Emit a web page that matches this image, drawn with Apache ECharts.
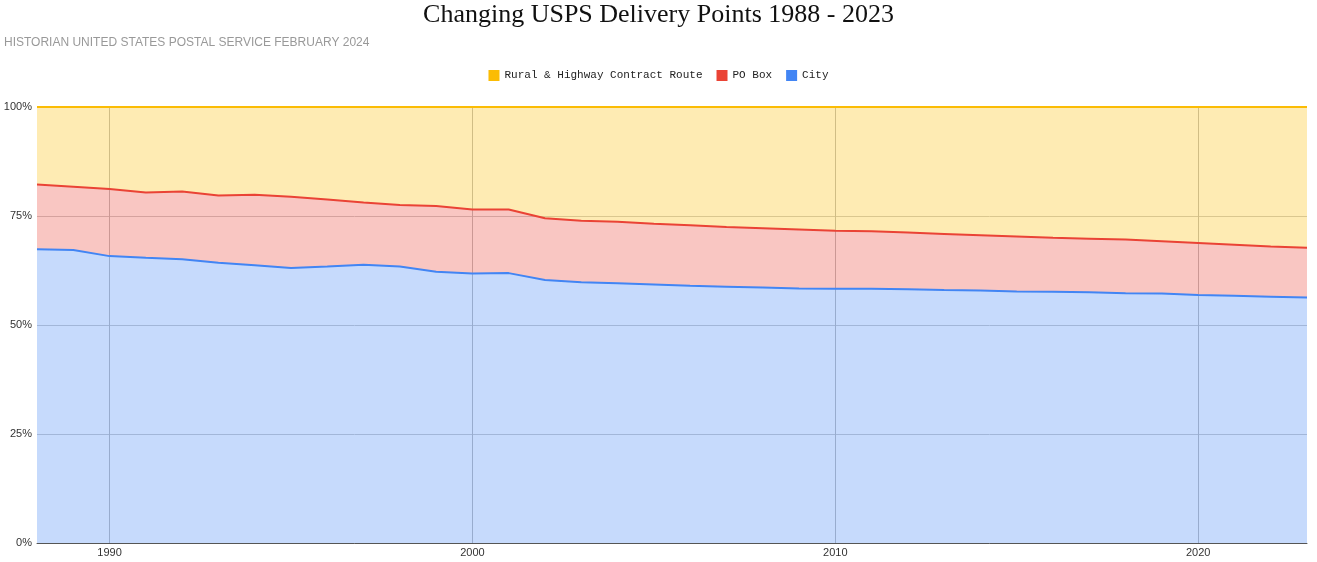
<!DOCTYPE html>
<html>
<head>
<meta charset="utf-8">
<script src="https://cdn.jsdelivr.net/npm/echarts@6/dist/echarts.min.js"></script>
<style>
html,body{margin:0;padding:0;background:#fff;}
#c{width:1317px;height:562px;}
</style>
</head>
<body>
<div id="c"></div>
<script>
const years = [];
for (let y = 1988; y <= 2023; y++) years.push(String(y));

const city = [67.4, 67.2, 65.8, 65.4, 65.1, 64.3, 63.7, 63.1, 63.4, 63.8, 63.4, 62.2, 61.8, 61.9, 60.3, 59.8, 59.6, 59.3, 59.0, 58.8, 58.6, 58.4, 58.3, 58.3, 58.2, 58.0, 57.9, 57.7, 57.6, 57.5, 57.3, 57.2, 56.9, 56.7, 56.5, 56.3];
const poBox = [14.8, 14.5, 15.4, 15.0, 15.5, 15.4, 16.2, 16.3, 15.4, 14.3, 14.1, 15.1, 14.7, 14.6, 14.2, 14.1, 14.1, 13.9, 13.9, 13.7, 13.6, 13.5, 13.3, 13.2, 13.0, 12.9, 12.7, 12.6, 12.4, 12.3, 12.3, 12.0, 11.9, 11.7, 11.5, 11.4];
const rural = [17.8, 18.3, 18.8, 19.6, 19.4, 20.3, 20.1, 20.6, 21.2, 21.9, 22.5, 22.7, 23.5, 23.5, 25.5, 26.1, 26.3, 26.8, 27.1, 27.5, 27.8, 28.1, 28.4, 28.5, 28.8, 29.1, 29.4, 29.7, 30.0, 30.2, 30.4, 30.8, 31.2, 31.6, 32.0, 32.3];
const yTicks = [0, 25, 50, 75, 100];

const decade = (i, v) => Number(v) % 10 === 0;

const chart = echarts.init(document.getElementById('c'));
const mk = (name, data, color) => ({
  name, type: 'line', stack: 'total', data,
  symbol: 'none', smooth: false,
  lineStyle: { width: 2, color },
  itemStyle: { color },
  areaStyle: { color, opacity: 0.3 },
  emphasis: { disabled: true }
});
chart.setOption({
  animation: false,
  title: [
    { text: 'Changing USPS Delivery Points 1988 - 2023', left: 'center', top: 2, padding: 0,
      textStyle: { fontFamily: 'Liberation Serif', fontWeight: 'normal', fontSize: 26, color: '#111' } },
    { text: 'HISTORIAN UNITED STATES POSTAL SERVICE FEBRUARY 2024', left: 4, top: 37, padding: 0,
      textStyle: { fontFamily: 'Liberation Sans', fontWeight: 'normal', fontSize: 12, color: '#999' } }
  ],
  legend: {
    top: 70, left: 'center', padding: 0, itemWidth: 11, itemHeight: 11, itemGap: 14, icon: 'rect',
    data: ['Rural & Highway Contract Route', 'PO Box', 'City'],
    textStyle: { fontFamily: 'Liberation Mono', fontSize: 11, color: '#222' }
  },
  grid: { left: 37, right: 10, top: 107, bottom: 19 },
  xAxis: {
    type: 'category', data: years, boundaryGap: false,
    axisLine: { lineStyle: { color: '#555', width: 1 } },
    axisTick: { show: false },
    axisLabel: { interval: decade, fontFamily: 'Liberation Sans', fontSize: 11, color: '#333', margin: 4 },
    splitLine: { show: true, interval: decade, lineStyle: { color: '#bdbdbd', width: 1 } }
  },
  yAxis: {
    type: 'value', min: yTicks[0], max: yTicks[yTicks.length - 1], interval: 25,
    axisLine: { show: false }, axisTick: { show: false },
    axisLabel: { formatter: '{value}%', fontFamily: 'Liberation Sans', fontSize: 11, color: '#333', margin: 5 },
    splitLine: { lineStyle: { color: '#cccccc', width: 1 } }
  },
  series: [
    mk('City', city, '#4285f4'),
    mk('PO Box', poBox, '#ea4335'),
    mk('Rural & Highway Contract Route', rural, '#fbbc04')
  ]
});
</script>
</body>
</html>
